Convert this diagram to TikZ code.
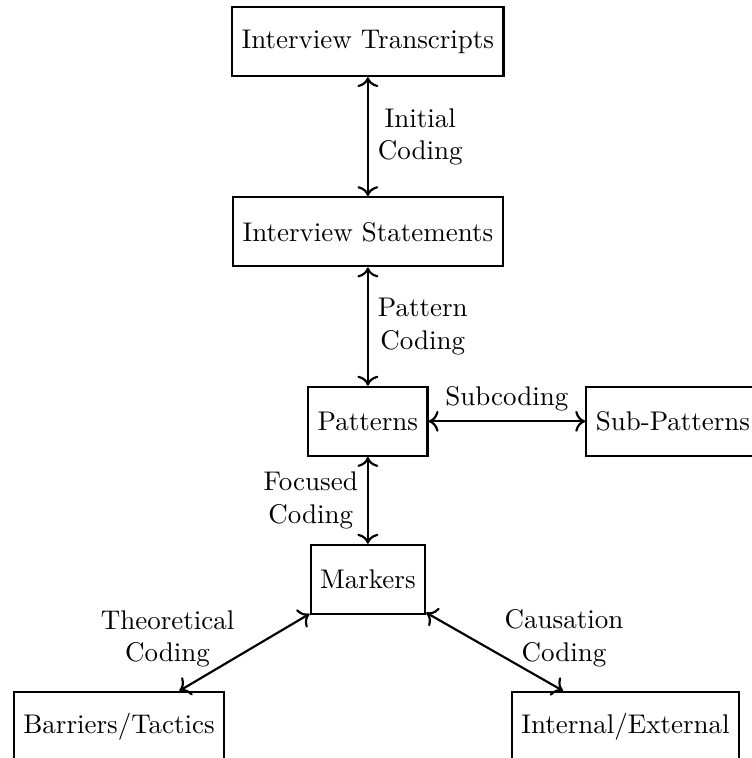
\documentclass[tikz,border=0pt]{standalone}
\usepackage{tikz}
\usetikzlibrary{arrows.meta,positioning}
\tikzset{
  codebox/.style={draw, thick, minimum height=0.9cm, inner xsep=3.5pt},
  codearrow/.style={{To[scale=1.1]}-{To[scale=1.1]}, thick},
  codelabel/.style={align=center}
}

\begin{document}
\begin{tikzpicture}
      % Visible region (boxes at the right and bottom run past it)
      \useasboundingbox (0,0) rectangle (9.79,-9.87);
      \clip (0,0) rectangle (9.79,-9.87);

      % Main chain of coding levels
      \node[codebox] (trans) at (4.79,-0.54) {Interview Transcripts};
      \node[codebox, below=1.55cm of trans] (stmt) {Interview Statements};
      \node[codebox, below=1.54cm of stmt] (pat) {Patterns};
      \node[codebox, right=2.04cm of pat] (subpat) {Sub-Patterns};
      \node[codebox, below=1.13cm of pat] (mark) {Markers};

      % Two outcome categories
      \node[codebox] (bar) at (1.55,-9.46) {Barriers/Tactics};
      \node[codebox] (intext) at (8.145,-9.46) {Internal/External};

      % Coding steps
      \draw[codearrow] (trans) -- node[right, codelabel] {Initial\\Coding} (stmt);
      \draw[codearrow] (stmt) -- node[right, codelabel] {Pattern\\Coding} (pat);
      \draw[codearrow] (pat) -- node[above] {Subcoding} (subpat);
      \draw[codearrow] (pat) -- node[left, codelabel] {Focused\\Coding} (mark);
      \draw[codearrow] (mark) -- node[left, yshift=5pt, codelabel] {Theoretical\\Coding} (bar);
      \draw[codearrow] (mark) -- node[right, yshift=5pt, codelabel] {Causation\\Coding} (intext);
    \end{tikzpicture}
\end{document}
